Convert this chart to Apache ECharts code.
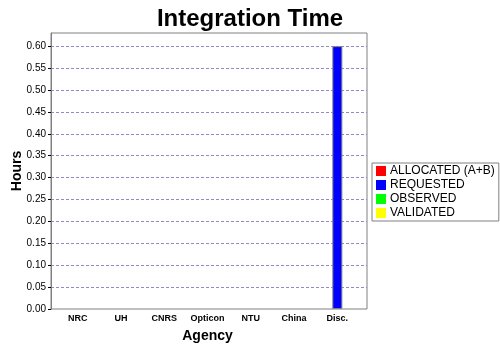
<!DOCTYPE html>
<html>
<head>
<meta charset="utf-8">
<script src="https://cdn.jsdelivr.net/npm/echarts@6/dist/echarts.min.js"></script>
<style>html,body{margin:0;padding:0;background:#fff;}#c{width:500px;height:350px;}</style>
</head>
<body>
<div id="c"></div>
<script>
var categories = ['NRC', 'UH', 'CNRS', 'Opticon', 'NTU', 'China', 'Disc.'];
var allocated = [0, 0, 0, 0, 0, 0, 0];
var requested = [0, 0, 0, 0, 0, 0, 0.60];
var observed = [0, 0, 0, 0, 0, 0, 0];
var validated = [0, 0, 0, 0, 0, 0, 0];
var seriesNames = ['ALLOCATED (A+B)', 'REQUESTED', 'OBSERVED', 'VALIDATED'];
var seriesColors = ['#ff0000', '#0000ff', '#00ff00', '#ffff00'];
var yMin = 0, yMax = 0.63, yStep = 0.05;

var chart = echarts.init(document.getElementById('c'), null, {renderer: 'canvas'});
var font = 'Liberation Sans, Arial, sans-serif';
var values = [allocated, requested, observed, validated];
var series = seriesNames.map(function (n, i) {
  return {
    name: n, type: 'bar', xAxisIndex: 1, yAxisIndex: 1, stack: 'all',
    barWidth: 10,
    // zero-height bars are not drawn (no outline slivers)
    data: values[i].map(function (v) { return v === 0 ? null : v; }),
    itemStyle: {color: seriesColors[i], borderColor: '#808080', borderWidth: 1},
    emphasis: {disabled: true}
  };
});
chart.setOption({
  animation: false,
  backgroundColor: '#fff',
  title: {
    text: 'Integration Time', left: 'center', top: 2,
    textStyle: {fontFamily: font, fontSize: 24, fontWeight: 'bold', color: '#000'}
  },
  legend: {
    orient: 'vertical', left: 372, top: 163,
    itemWidth: 10, itemHeight: 10, itemGap: 2,
    borderColor: '#808080', borderWidth: 1, padding: [2, 4, 2, 4],
    icon: 'rect', itemStyle: {borderWidth: 0},
    textStyle: {fontFamily: font, fontSize: 12, color: '#000', padding: [0, 0, 0, -1]},
    data: seriesNames
  },
  grid: [
    {left: 51, right: 133, top: 33, bottom: 41, show: true, borderColor: '#808080', borderWidth: 1,
     backgroundColor: '#fff', containLabel: false, outerBoundsMode: 'none'},
    {left: 56, right: 141, top: 33, bottom: 41, show: false, containLabel: false, outerBoundsMode: 'none'}
  ],
  xAxis: [
    {type: 'category', gridIndex: 0, data: categories, show: false},
    {
      type: 'category', gridIndex: 1, data: categories,
      axisLine: {show: false}, axisTick: {show: false},
      axisLabel: {fontFamily: font, fontSize: 9, fontWeight: 'bold', color: '#000', margin: 5, interval: 0},
      name: 'Agency', nameLocation: 'middle', nameGap: 20, nameMoveOverlap: false,
      nameTextStyle: {fontFamily: font, fontSize: 14, fontWeight: 'bold', color: '#000'}
    }
  ],
  yAxis: [
    {
      type: 'value', gridIndex: 0, min: yMin, max: yMax, interval: yStep,
      axisLine: {show: true, lineStyle: {color: '#808080'}},
      axisTick: {show: true, length: 3, lineStyle: {color: '#000'}},
      axisLabel: {fontFamily: font, fontSize: 10, color: '#000', margin: 5, showMaxLabel: false,
        formatter: function (v) { return v.toFixed(2); }},
      splitLine: {show: true, showMinLine: false, showMaxLine: false,
        lineStyle: {color: '#8c8cc8', type: [3, 2], width: 1}},
      name: 'Hours', nameLocation: 'middle', nameGap: 27, nameRotate: 90, nameMoveOverlap: false,
      nameTextStyle: {fontFamily: font, fontSize: 14, fontWeight: 'bold', color: '#000'}
    },
    {type: 'value', gridIndex: 1, min: yMin, max: yMax, show: false}
  ],
  series: series
});
</script>
</body>
</html>
